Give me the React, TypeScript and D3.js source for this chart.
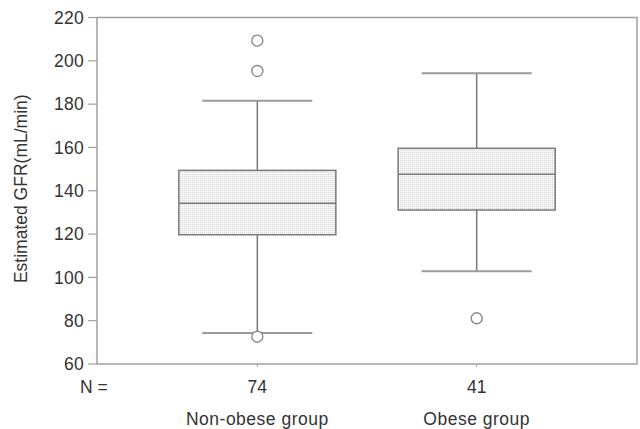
import React from "react";
import * as d3 from "d3";

const groups = ["Non-obese group", "Obese group"];
const counts = [74, 41];
const whiskerLow = [74.3, 102.8];
const q1 = [119.7, 131.1];
const medians = [134.2, 147.6];
const q3 = [149.4, 159.6];
const whiskerHigh = [181.6, 194.2];
const outliers = [[209.3, 195.3, 72.6], [81.1]];
const yTicks = [60, 80, 100, 120, 140, 160, 180, 200, 220];

const W = 640;
const H = 429;
const frame = { left: 97, right: 637, top: 17.5, bottom: 364 };
const font = "'Liberation Sans', Arial, sans-serif";
const lineColor = "#7a7a7a";
const textColor = "#333";
const fs = 17.5;

export default function App() {
  const y = d3.scaleLinear().domain([60, 220]).range([frame.bottom, frame.top]);
  const x = d3
    .scalePoint<string>()
    .domain(groups)
    .range([frame.left, frame.right])
    .padding(0.731);
  const step = x.step();
  const boxW = step * 0.716;
  const capW = 110;

  return (
    <div style={{ position: "absolute", left: 0, top: 0 }}>
      <svg width={W} height={H} style={{ display: "block" }}>
        <defs>
          <pattern id="dots" width={2} height={2} patternUnits="userSpaceOnUse">
            <rect width={2} height={2} fill="#f6f6f6" />
            <rect width={1} height={1} fill="#d6d6d6" />
          </pattern>
        </defs>
        <rect x={0} y={0} width={W} height={H} fill="#fff" />

        {/* frame */}
        <rect
          x={frame.left}
          y={frame.top}
          width={frame.right - frame.left}
          height={frame.bottom - frame.top}
          fill="none"
          stroke="#a0a0a0"
          strokeWidth={1.5}
        />

        {/* y axis */}
        {yTicks.map(t => (
          <g key={t}>
            <line x1={frame.left - 9} x2={frame.left} y1={y(t)} y2={y(t)} stroke="#a0a0a0" strokeWidth={1.2} />
            <text
              x={frame.left - 13}
              y={y(t)}
              dy="0.35em"
              textAnchor="end"
              fontFamily={font}
              fontSize={fs}
              fill={textColor}
              letterSpacing={0.3}
            >
              {t}
            </text>
          </g>
        ))}
        <text
          transform={`translate(27, ${(frame.top + frame.bottom) / 2 - 2}) rotate(-90)`}
          textAnchor="middle"
          fontFamily={font}
          fontSize={fs}
          fill={textColor}
        >
          Estimated GFR(mL/min)
        </text>

        {/* boxes */}
        {groups.map((g, i) => {
          const cx = x(g) as number;
          return (
            <g key={g}>
              <line x1={cx} x2={cx} y1={y(whiskerHigh[i])} y2={y(q3[i])} stroke={lineColor} strokeWidth={1.5} />
              <line x1={cx} x2={cx} y1={y(q1[i])} y2={y(whiskerLow[i])} stroke={lineColor} strokeWidth={1.5} />
              <line x1={cx - capW / 2} x2={cx + capW / 2} y1={y(whiskerHigh[i])} y2={y(whiskerHigh[i])} stroke="#9a9a9a" strokeWidth={2} />
              <line x1={cx - capW / 2} x2={cx + capW / 2} y1={y(whiskerLow[i])} y2={y(whiskerLow[i])} stroke="#9a9a9a" strokeWidth={2} />
              <rect
                x={cx - boxW / 2}
                y={y(q3[i])}
                width={boxW}
                height={y(q1[i]) - y(q3[i])}
                fill="url(#dots)"
                stroke={lineColor}
                strokeWidth={1.5}
              />
              <line x1={cx - boxW / 2} x2={cx + boxW / 2} y1={y(medians[i])} y2={y(medians[i])} stroke={lineColor} strokeWidth={1.5} />
              {outliers[i].map((o, j) => (
                <circle key={j} cx={cx} cy={y(o)} r={5.5} fill="#fff" stroke="#8a8a8a" strokeWidth={1.4} />
              ))}
              <line x1={cx} x2={cx} y1={frame.bottom} y2={frame.bottom + 3} stroke="#a0a0a0" strokeWidth={1} />
              <text x={cx} y={393} textAnchor="middle" fontFamily={font} fontSize={fs} fill={textColor}>
                {counts[i]}
              </text>
              <text x={cx} y={425} textAnchor="middle" fontFamily={font} fontSize={fs} fill={textColor} letterSpacing={0.5}>
                {g}
              </text>
            </g>
          );
        })}
        <text x={80} y={393} fontFamily={font} fontSize={fs} fill={textColor}>
          N =
        </text>
      </svg>
    </div>
  );
}
